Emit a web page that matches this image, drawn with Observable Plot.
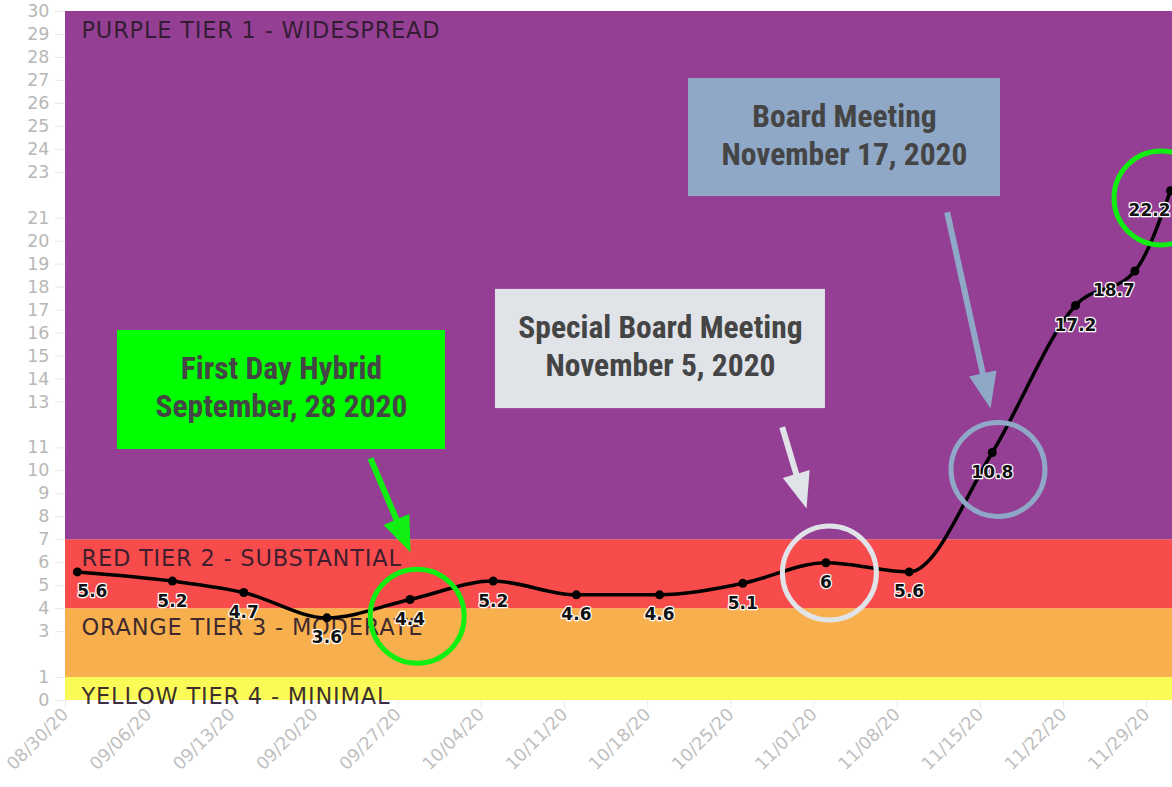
<!DOCTYPE html>
<html><head><meta charset="utf-8">
<script src="https://cdn.jsdelivr.net/npm/d3@7"></script>
<script src="https://cdn.jsdelivr.net/npm/@observablehq/plot@0.6"></script>
<style>
html,body{margin:0;padding:0;background:#fff;overflow:hidden;}
g.tier text{letter-spacing:0.8px;}
</style></head><body><div id="chart"></div>
<script>
// ---- data ----
const dates = ["2020-08-31","2020-09-08","2020-09-14","2020-09-21","2020-09-28","2020-10-05","2020-10-12","2020-10-19","2020-10-26","2020-11-02","2020-11-09","2020-11-16","2020-11-23","2020-11-28","2020-12-01"];
const rates = [5.6,5.2,4.7,3.6,4.4,5.2,4.6,4.6,5.1,6,5.6,10.8,17.2,18.7,22.2];
const xTicks = ["2020-08-30","2020-09-06","2020-09-13","2020-09-20","2020-09-27","2020-10-04","2020-10-11","2020-10-18","2020-10-25","2020-11-01","2020-11-08","2020-11-15","2020-11-22","2020-11-29"];
const yTicks = [0,1,3,4,5,6,7,8,9,10,11,13,14,15,16,17,18,19,20,21,23,24,25,26,27,28,29,30];
const xDomain = ["2020-08-30","2020-12-01T04:00"];

const tierNames = ["YELLOW TIER 4 - MINIMAL","ORANGE TIER 3 - MODERATE","RED TIER 2 - SUBSTANTIAL","PURPLE TIER 1 - WIDESPREAD"];
const tierLow = [0,1,4,7];
const tierHigh = [1,4,7,30];
const tierColors = ["#fbfb57","#f8b04f","#f84b4b","#953f94"];

const boxText = ["First Day Hybrid\nSeptember, 28 2020","Special Board Meeting\nNovember 5, 2020","Board Meeting\nNovember 17, 2020"];
const boxX1 = ["2020-09-03T09:00","2020-10-05T04:30","2020-10-21T10:20"];
const boxX2 = ["2020-09-30T23:30","2020-11-01T23:00","2020-11-16T16:30"];
const boxY1 = [10.93,12.71,21.94];
const boxY2 = [16.11,17.90,27.08];
const boxColors = ["#00ff00","#e0e4e9","#8fa8c8"];

const arrowX1 = ["2020-09-24T16:00","2020-10-29T07:40","2020-11-12T04:50"];
const arrowY1 = [10.54,11.90,21.26];
const arrowX2 = ["2020-09-28T01:00","2020-10-31T08:50","2020-11-15T20:30"];
const arrowY2 = [6.44,8.36,12.71];
const arrowColors = ["#11ee11","#e0e4e9","#8fa8c8"];

const ringX = ["2020-09-28T14:24","2020-11-02T07:00","2020-11-16T11:30","2020-11-30T04:50"];
const ringY = [3.67,5.55,10.06,21.88];
const ringColors = ["#11ee11","#e0e4e9","#8fa8c8","#11ee11"];

// ---- layout ----
const W = 1172, H = 787, mL = 65, mR = 0, mT = 11, mB = 87;
const D = s => new Date(s);

const series = dates.map((d, i) => ({date: D(d), value: rates[i]}));
const tiers = tierNames.map((n, i) => ({name: n, lo: tierLow[i], hi: tierHigh[i], color: tierColors[i]}));
const boxes = boxText.map((t, i) => ({text: t, x1: D(boxX1[i]), x2: D(boxX2[i]), y1: boxY1[i], y2: boxY2[i], color: boxColors[i],
  xm: new Date((D(boxX1[i]).getTime() + D(boxX2[i]).getTime()) / 2), ym: (boxY1[i] + boxY2[i]) / 2}));
const rings = ringX.map((x, i) => ({x: D(x), y: ringY[i], color: ringColors[i]}));

const xs = Plot.scale({x: {type: "utc", domain: xDomain.map(D), range: [mL, W - mR]}});
const ys = Plot.scale({y: {type: "linear", domain: [0, 30], range: [H - mB, mT]}});
const arrows = arrowX1.map((x, i) => {
  const px1 = xs.apply(D(x)), py1 = ys.apply(arrowY1[i]);
  const px2 = xs.apply(D(arrowX2[i])), py2 = ys.apply(arrowY2[i]);
  const dx = px2 - px1, dy = py2 - py1;
  return {x: D(x), y: arrowY1[i], len: Math.hypot(dx, dy), rot: Math.atan2(dx, -dy) * 180 / Math.PI, color: arrowColors[i]};
});

const arrowShape = {
  draw(context, l) {
    const hl = 36, hw = 14, sw = 3;
    const s = Math.max(0, l - hl);
    context.moveTo(-sw, 0);
    context.lineTo(-sw, -s);
    context.lineTo(-hw, -s);
    context.lineTo(0, -l);
    context.lineTo(hw, -s);
    context.lineTo(sw, -s);
    context.lineTo(sw, 0);
    context.closePath();
  }
};

const F = "'DejaVu Sans', 'Open Sans', sans-serif";
const FA = "'Roboto Condensed', 'Liberation Sans Narrow', 'Arial Narrow', Roboto, sans-serif";
const labelStyle = {x: "date", y: "value", text: d => String(d.value), dy: 20, fontSize: 17, fontWeight: 700, fontFamily: F, fill: "#111", stroke: "#fff", strokeWidth: 2.5};

const chart = Plot.plot({
  width: W, height: H,
  marginLeft: mL, marginRight: mR, marginTop: mT, marginBottom: mB,
  x: {type: "utc", domain: xDomain.map(D)},
  y: {domain: [0, 30]},
  color: {type: "identity"},
  length: {type: "identity"},
  style: {fontFamily: F, background: "#fff", overflow: "visible"},
  marks: [
    Plot.rect(tiers, {y1: "lo", y2: "hi", fill: "color"}),
    Plot.axisY({ticks: yTicks, tickSize: 10, tickPadding: 6, fontSize: 17.5, fill: "#b8b8b8", stroke: "#e8e8e8", label: null, tickFormat: d => String(d)}),
    Plot.axisX({ticks: xTicks.map(D), tickFormat: "%m/%d/%y", tickRotate: -45, tickSize: 8, tickPadding: 3, fontSize: 17.5, fill: "#c0c0c0", stroke: "#ececec", label: null}),
    Plot.text(tiers, {y: "hi", text: "name", frameAnchor: "left", textAnchor: "start", dx: 16, dy: 19, fontSize: 22.5, fill: "#2b1a2b", fillOpacity: 0.92, className: "tier"}),
    Plot.line(series, {x: "date", y: "value", curve: "monotone-x", stroke: "#000", strokeWidth: 3.5}),
    Plot.dot(series, {x: "date", y: "value", r: 4.5, fill: "#000"}),
    Plot.text(series, {...labelStyle, filter: (d, i) => i > 0 && i < series.length - 2}),
    Plot.text(series, {...labelStyle, filter: (d, i) => i === 0, dx: 15}),
    Plot.text(series, {...labelStyle, filter: (d, i) => i >= series.length - 2, dx: -21}),
    Plot.rect(boxes, {x1: "x1", x2: "x2", y1: "y1", y2: "y2", fill: "color"}),
    Plot.text(boxes, {x: "xm", y: "ym", text: "text", fontFamily: FA, fontWeight: 700, fontSize: 31.5, lineHeight: 1.2, dy: -4, fill: "#454545"}),
    Plot.vector(arrows, {x: "x", y: "y", length: "len", rotate: "rot", anchor: "start", shape: arrowShape, fill: "color", stroke: null}),
    Plot.dot(rings, {x: "x", y: "y", r: 47, stroke: "color", strokeWidth: 5, fill: "none"})
  ]
});
document.getElementById("chart").appendChild(chart);
</script>
</body></html>
